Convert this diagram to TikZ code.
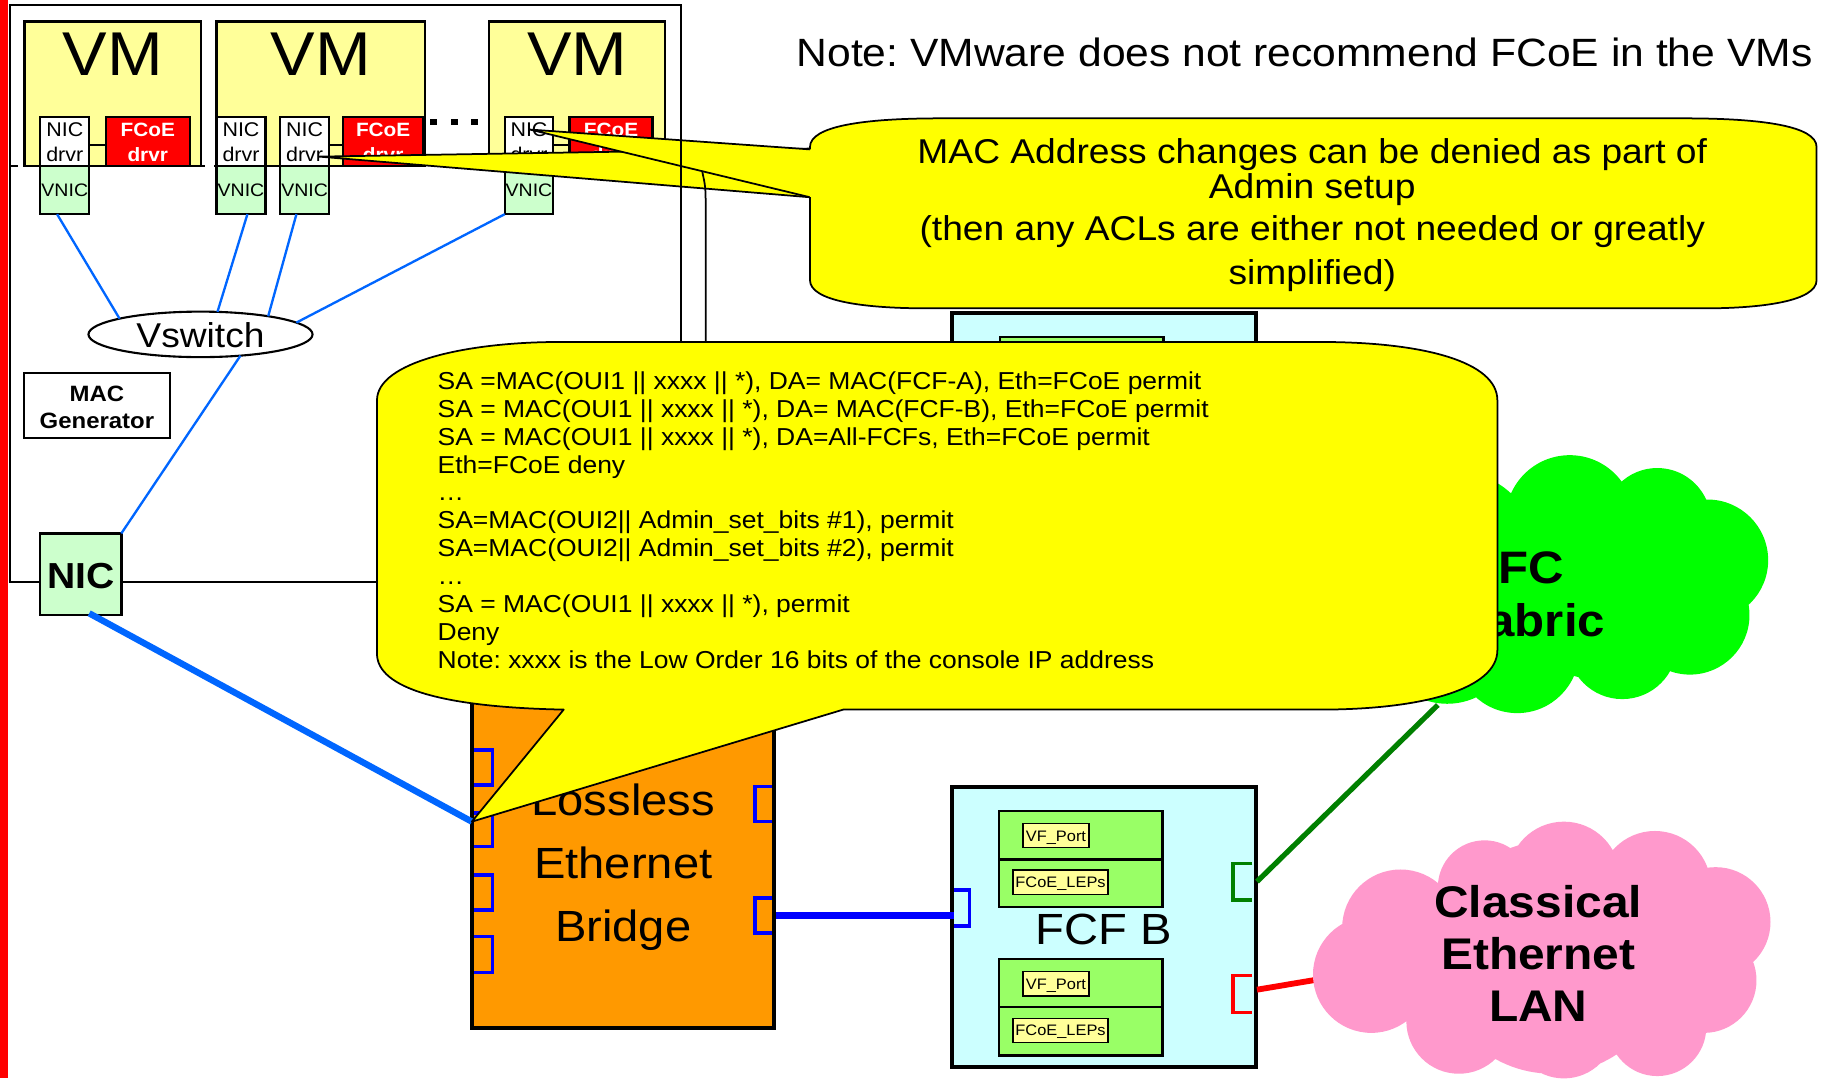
\documentclass[tikz,border=0pt]{standalone}
\usepackage{fontspec}
\setmainfont{Liberation Sans}[FakeStretch=1.08]
\usetikzlibrary{shapes.geometric,calc}
\frenchspacing

\definecolor{vmyellow}{HTML}{FFFF99}
\definecolor{calloutyellow}{HTML}{FFFF00}
\definecolor{nicgreen}{HTML}{CCFFCC}
\definecolor{drvred}{HTML}{FF0000}
\definecolor{bridgeorange}{HTML}{FF9900}
\definecolor{fcfcyan}{HTML}{CCFFFF}
\definecolor{lepgreen}{HTML}{99FF66}
\definecolor{linkblue}{HTML}{0066FF}
\definecolor{portblue}{HTML}{0000FF}
\definecolor{fabricgreen}{HTML}{00FF00}
\definecolor{darkgreen}{HTML}{008000}
\definecolor{lanpink}{HTML}{FF99CC}

% stacked lines whose baseline is the first line's baseline
\newcommand\txtlines[2]{\begin{tabular}[t]{@{}#1@{}}#2\end{tabular}}
% empty rectangular node from its corners: style, name, x1, y1, x2, y2
\newcommand\boxnode[6]{\node[#1, anchor=north west, minimum width={#5pt-#3pt}, minimum height={#6pt-#4pt}] (#2) at (#3,#4) {};}

\begin{document}
\begin{tikzpicture}[x=1pt,y=-1pt,
  every node/.style={inner sep=0pt, outer sep=0pt},
  hostframe/.style={draw, line width=1.5pt, fill=white},
  hostline/.style={draw, line width=1.5pt},
  vmbox/.style={draw, line width=2pt, fill=vmyellow},
  drvbox/.style={draw, line width=2pt, fill=white},
  fcoebox/.style={draw, line width=2pt, fill=drvred},
  vnicbox/.style={draw, line width=2pt, fill=nicgreen},
  macbox/.style={draw, line width=2pt, fill=white},
  bridgebox/.style={draw, line width=3.5pt, fill=bridgeorange},
  fcfbox/.style={draw, line width=3.5pt, fill=fcfcyan},
  lepbox/.style={draw, line width=2pt, fill=lepgreen},
  tagbox/.style={draw, line width=1.3pt, fill=vmyellow},
  thinlink/.style={draw=linkblue, line width=2pt},
  portline/.style={line width=3pt, line cap=butt, line join=miter},
  calloutedge/.style={draw=black, line width=1.5pt, line join=round},
  vmfont/.style={font=\fontsize{53}{60}\selectfont},
  drvfont/.style={font=\fontsize{17}{21.5}\selectfont},
  fcoefont/.style={font=\bfseries\fontsize{16.5}{21.5}\selectfont, text=white},
  vnicfont/.style={font=\fontsize{15.5}{18}\selectfont},
  bigfont/.style={font=\fontsize{37.4}{54}\selectfont},
  cloudfont/.style={font=\bfseries\fontsize{38}{44.5}\selectfont},
  tagfont/.style={font=\fontsize{13}{15}\selectfont},
]
\useasboundingbox (0,0) rectangle (1568,924);
\fill[white] (0,0) rectangle (1568,924);

% red strip on the left margin
\fill[red] (0,0) rectangle (6.9,924);

% server enclosure
\boxnode{hostframe}{host}{8.5}{4.5}{583.5}{498.5}

% virtual machines
\boxnode{vmbox}{vm1}{21}{18.5}{172}{142}
\boxnode{vmbox}{vm2}{185.5}{18.5}{364}{142}
\boxnode{vmbox}{vm3}{419}{18.5}{570}{142}
\node[vmfont, anchor=base] (vm1t) at (96.5,65) {VM};
\node[vmfont, anchor=base] (vm2t) at (274.75,65) {VM};
\node[vmfont, anchor=base] (vm3t) at (494.5,65) {VM};

% hypervisor boundary
\draw[line width=2pt] (9.5,142) -- (15.3,142) (21,142) -- (175.8,142) (183.6,142) -- (186,142);

% continuation dots
\fill (368.4,102) rectangle (374.4,107);
\fill (386,102) rectangle (392.3,107);
\fill (403.6,102) rectangle (409.6,107);

% drivers
\boxnode{drvbox}{nd1}{34.5}{100.5}{76.5}{142}
\boxnode{drvbox}{nd2a}{185.5}{100.5}{227.5}{142}
\boxnode{drvbox}{nd2b}{240}{100.5}{282}{142}
\boxnode{drvbox}{nd3}{432.5}{100.5}{474}{142}
\boxnode{fcoebox}{fc1}{90.6}{100.5}{162.6}{142}
\boxnode{fcoebox}{fc2}{294}{100.5}{362.6}{142}
\boxnode{fcoebox}{fc3}{488}{100.5}{559}{142}
\draw[line width=2pt] ($(nd1.east)+(0,3.25)$) -- ($(fc1.west)+(0,3.25)$);
\draw[line width=2pt] ($(nd2b.east)+(0,3.25)$) -- ($(fc2.west)+(0,3.25)$);
\draw[line width=2pt] ($(nd3.east)+(0,3.25)$) -- ($(fc3.west)+(0,3.25)$);
\node[drvfont, anchor=base] (nd1t) at (55.5,117) {\txtlines{c}{NIC\\drvr}};
\node[drvfont, anchor=base] (nd2at) at (206.5,117) {\txtlines{c}{NIC\\drvr}};
\node[drvfont, anchor=base] (nd2bt) at (261,117) {\txtlines{c}{NIC\\drvr}};
\node[drvfont, anchor=base] (nd3t) at (453.25,117) {\txtlines{c}{NIC\\drvr}};
\node[fcoefont, anchor=base] (fc1t) at (126.6,117) {\txtlines{c}{FCoE\\drvr}};
\node[fcoefont, anchor=base] (fc2t) at (328.3,117) {\txtlines{c}{FCoE\\drvr}};
\node[fcoefont, anchor=base] (fc3t) at (523.5,117) {\txtlines{c}{FCoE\\drvr}};

% virtual NICs
\boxnode{vnicbox}{vn1}{34.5}{142}{76.5}{183.5}
\boxnode{vnicbox}{vn2}{185.5}{142}{227.5}{183.5}
\boxnode{vnicbox}{vn3}{240}{142}{282}{183.5}
\boxnode{vnicbox}{vn4}{432.5}{142}{474}{183.5}
\node[vnicfont, anchor=base] (vn1t) at (55.5,168.3) {VNIC};
\node[vnicfont, anchor=base] (vn2t) at (206.5,168.3) {VNIC};
\node[vnicfont, anchor=base] (vn3t) at (261,168.3) {VNIC};
\node[vnicfont, anchor=base] (vn4t) at (453.25,168.3) {VNIC};

% virtual switch
\node[ellipse, draw, line width=1.8pt, fill=white, minimum width=192pt, minimum height=39pt] (vsw) at (171.8,286.5) {};
\node[font=\fontsize{29.5}{34}\selectfont, anchor=base] (vswt) at (171.8,298) {Vswitch};
\draw[thinlink] ($(vn1.south)+(-6.6,0)$) -- (vsw.169.8);
\draw[thinlink] ($(vn2.south)+(5.5,0)$) -- (vsw.53.1);
\draw[thinlink] ($(vn3.south)+(-7,0)$) -- (vsw.15.9);
\draw[thinlink] (vn4.south west) -- (vsw.7.5);

% MAC generator and physical NIC
\boxnode{macbox}{mac}{20.7}{319.8}{145.4}{375.5}
\node[font=\bfseries\fontsize{19}{23}\selectfont, anchor=base] (mact) at (83.05,344) {\txtlines{c}{MAC\\Generator}};
\boxnode{vnicbox}{nic}{34.3}{457}{104}{527}
\node[font=\bfseries\fontsize{31}{36}\selectfont, anchor=base] (nict) at (69.15,504) {NIC};
\draw[thinlink] (vsw.-28.9) -- (nic.north east);

% first callout: two tails, then the body
\fill[calloutyellow] (694,127.3) -- (273.6,134.2) -- (694,169) -- cycle;
\draw[calloutedge] (694,127.3) -- (273.6,134.2) -- (694,169);
\fill[calloutyellow] (694,128) -- (454,111) -- (694,169) -- cycle;
\draw[calloutedge] (694,128) -- (454,111) -- (694,169);
\fill[calloutyellow] (694,169) -- (694,240) .. controls (694,258) and (740,264.2) .. (794.5,264.2)
  -- (1460,264.2) .. controls (1510,264.2) and (1556.5,258) .. (1556.5,240)
  -- (1556.5,126) .. controls (1556.5,108) and (1510,101.4) .. (1443,101.4)
  -- (806,101.4) .. controls (740,101.4) and (694,108) .. (694,126) -- cycle;
\draw[calloutedge] (694,169) -- (694,240) .. controls (694,258) and (740,264.2) .. (794.5,264.2)
  -- (1460,264.2) .. controls (1510,264.2) and (1556.5,258) .. (1556.5,240)
  -- (1556.5,126) .. controls (1556.5,108) and (1510,101.4) .. (1443,101.4)
  -- (806,101.4) .. controls (740,101.4) and (694,108) .. (694,126) -- (694,128);
\node[font=\fontsize{29.5}{30}\selectfont, anchor=base] (note1) at (1124.4,140)
  {\txtlines{c}{MAC Address changes can be denied as part of\\Admin setup\\[5.6pt](then any ACLs are either not needed or greatly\\[7.2pt]simplified)}};

% enclosure edge and uplink passing over the tails
\draw[hostline] (host.north east) -- (host.south east);
\draw[hostline] (601.7,147) .. controls (604.5,160) .. (604.7,178) -- (604.7,300);

% heading note
\node[font=\fontsize{33.8}{40}\selectfont, anchor=base west] (headnote) at (682.6,57) {Note: VMware does not recommend FCoE in the VMs};

% FCF A (mostly behind the ACL callout)
\boxnode{fcfbox}{fcfa}{815.5}{268}{1076}{507.4}
\boxnode{lepbox}{fcfain}{857}{288.5}{997}{371}

% FC fabric cloud
\coordinate (fcedge) at (1232,604);
\coordinate (lanedge) at (1126.4,839.7);
\boxnode{fcfbox}{fcfb}{815.5}{674.6}{1076}{914}
\draw[darkgreen, line width=4.5pt] ($(fcfb.east)+(1,-38.9)$) -- (fcedge);
\draw[red, line width=5pt] ($(fcfb.east)+(1,53.7)$) -- (lanedge);
\fill[fabricgreen] (1345,445) circle[radius=55] (1420,447) circle[radius=46]
  (1463,480) circle[radius=52] (1448,527) circle[radius=51] (1390,552) circle[radius=47]
  (1300,558) circle[radius=53] (1240,545) circle[radius=58] (1250,470) circle[radius=65]
  (1370,500) circle[radius=82];
\node[cloudfont, font=\bfseries\fontsize{39}{45.7}\selectfont, anchor=base] (fct) at (1312,499.8) {\txtlines{c}{FC\\Fabric}};

% classical LAN cloud
\fill[lanpink] (1200,795) circle[radius=50] (1272,760) circle[radius=40] (1340,752) circle[radius=48]
  (1418,760) circle[radius=48] (1470,790) circle[radius=47] (1460,840) circle[radius=45]
  (1420,880) circle[radius=42] (1340,880) circle[radius=44] (1250,875) circle[radius=45]
  (1175,835) circle[radius=50] (1330,820) circle[radius=100];
\node[cloudfont, anchor=base] (lant) at (1318,786) {\txtlines{c}{Classical\\Ethernet\\LAN}};

% FCF B contents
\boxnode{lepbox}{lepa}{856}{694.6}{996}{777.4}
\draw[line width=2pt] (lepa.west |- 0,736.3) -- (lepa.east |- 0,736.3);
\boxnode{lepbox}{lepb}{856}{821.7}{996}{904.5}
\draw[line width=2pt] (lepb.west |- 0,863) -- (lepb.east |- 0,863);
\boxnode{tagbox}{vfa}{876.6}{705.5}{933}{726.3}
\boxnode{tagbox}{lepsa}{868}{745.4}{949.4}{766.3}
\boxnode{tagbox}{vfb}{876.6}{832.6}{933}{853.4}
\boxnode{tagbox}{lepsb}{868}{872.5}{949.4}{893.4}
\node[tagfont, anchor=base] (vfat) at (904.8,720.6) {VF\_Port};
\node[tagfont, anchor=base] (lepsat) at (908.7,760.5) {FCoE\_LEPs};
\node[tagfont, anchor=base] (vfbt) at (904.8,847.6) {VF\_Port};
\node[tagfont, anchor=base] (lepsbt) at (908.7,887.6) {FCoE\_LEPs};
\node[bigfont, anchor=base] (fcfbt) at (946,809.5) {FCF B};
\draw[portline, portblue] (817.7,762.6) -- (830.6,762.6) -- (830.6,793.4) -- (817.7,793.4);
\draw[portline, darkgreen] (1073,739.7) -- (1056.5,739.7) -- (1056.5,771.2) -- (1073,771.2);
\draw[portline, red] (1073,836) -- (1056.5,836) -- (1056.5,867.4) -- (1073,867.4);

% lossless Ethernet bridge
\boxnode{bridgebox}{bridge}{404.3}{570}{663.4}{881}
\node[bigfont, anchor=base] (bridget) at (534,699) {\txtlines{c}{Lossless\\Ethernet\\Bridge}};
\draw[portline, portblue] (406,642.6) -- (422,642.6) -- (422,672.6) -- (406,672.6);
\draw[portline, portblue] (406,696.6) -- (422,696.6) -- (422,725.5) -- (406,725.5);
\draw[portline, portblue] (406,749.7) -- (422,749.7) -- (422,779.7) -- (406,779.7);
\draw[portline, portblue] (406,802.6) -- (422,802.6) -- (422,833.1) -- (406,833.1);
\draw[portline, portblue] (661.5,674) -- (647,674) -- (647,704) -- (661.5,704);
\draw[portline, portblue] (661.5,769.6) -- (647,769.6) -- (647,799.6) -- (661.5,799.6);
\draw[portblue, line width=6pt] ($(bridge.east)+(1.5,58.5)$) -- ($(fcfb.west)+(2,-10.3)$);
\draw[linkblue, line width=5.5pt] ($(nic.south)+(7.3,-1.5)$) -- ($(bridge.west)+(0,-21.5)$);

% ACL callout
\path[fill=calloutyellow, calloutedge] (323,343) .. controls (323,310) and (400,293) .. (480,293)
  -- (1131,293) .. controls (1220,293) and (1283,310) .. (1283,343)
  -- (1283,557) .. controls (1283,590) and (1220,608) .. (1131,608)
  -- (722.5,608) -- (404.3,704) -- (483,608)
  .. controls (380,606) and (323,590) .. (323,560) -- cycle;
\node[font=\fontsize{21}{23.9}\selectfont, anchor=base west] (acl) at (375,333.6) {\txtlines{l}{%
SA =MAC(OUI1 || xxxx || *), DA= MAC(FCF-A), Eth=FCoE permit\\
SA = MAC(OUI1 || xxxx || *), DA= MAC(FCF-B), Eth=FCoE permit\\
SA = MAC(OUI1 || xxxx || *), DA=All-FCFs, Eth=FCoE permit\\
Eth=FCoE deny\\
…\\
SA=MAC(OUI2|| Admin\_set\_bits \#1), permit\\
SA=MAC(OUI2|| Admin\_set\_bits \#2), permit\\
…\\
SA = MAC(OUI1 || xxxx || *), permit\\
Deny\\
Note: xxxx is the Low Order 16 bits of the console IP address}};
\end{tikzpicture}
\end{document}
